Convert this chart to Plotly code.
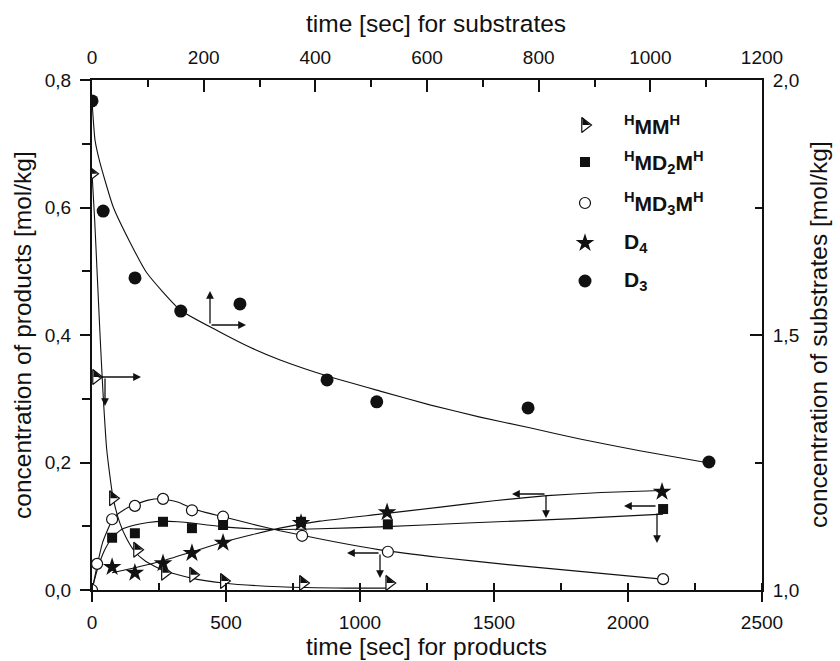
import plotly.graph_objects as go

# ---------------- data ----------------
# products: bottom axis = time [s], left axis = concentration [mol/kg]
mm_t = [0, 15, 78, 168, 272, 377, 492, 787, 1109]
mm_c = [0.653, 0.334, 0.144, 0.063, 0.027, 0.024, 0.014, 0.011, 0.011]
mm_fit_t = [0, 10, 20, 30, 41, 55, 78, 104, 130, 160, 200, 265, 366, 489, 700, 950, 1110]
mm_fit_c = [0.655, 0.58, 0.49, 0.40, 0.31, 0.22, 0.146, 0.105, 0.08, 0.060, 0.045, 0.031,
            0.019, 0.011, 0.005, 0.003, 0.003]

md2_t = [75, 160, 265, 373, 489, 780, 1104, 2131]
md2_c = [0.082, 0.089, 0.107, 0.097, 0.102, 0.107, 0.103, 0.127]
md2_fit_t = [0, 15, 30, 50, 75, 110, 160, 210, 265, 320, 373, 430, 489, 600, 701, 850,
             1075, 1400, 1800, 2131]
md2_fit_c = [0, 0.025, 0.045, 0.065, 0.082, 0.095, 0.102, 0.106, 0.108, 0.107, 0.105,
             0.102, 0.099, 0.096, 0.095, 0.096, 0.099, 0.105, 0.112, 0.119]

md3_t = [0, 19, 75, 160, 265, 373, 489, 784, 1104, 2131]
md3_c = [0, 0.041, 0.111, 0.132, 0.143, 0.125, 0.115, 0.085, 0.060, 0.017]
md3_fit_t = [0, 10, 18, 40, 80, 120, 160, 210, 261, 320, 373, 430, 489, 600, 701, 784,
             900, 1075, 1300, 1571, 1850, 2127]
md3_fit_c = [0, 0.02, 0.036, 0.075, 0.113, 0.126, 0.134, 0.141, 0.143, 0.138, 0.128,
             0.121, 0.115, 0.103, 0.093, 0.086, 0.076, 0.063, 0.051, 0.039, 0.028, 0.017]

d4_t = [75, 160, 265, 373, 489, 780, 1101, 2127]
d4_c = [0.036, 0.027, 0.042, 0.058, 0.074, 0.105, 0.122, 0.154]
d4_fit_t = [75, 160, 265, 373, 489, 600, 701, 850, 1075, 1300, 1500, 1698, 1900, 2127]
d4_fit_c = [0.027, 0.035, 0.046, 0.060, 0.075, 0.087, 0.097, 0.108, 0.119, 0.130, 0.140,
            0.148, 0.153, 0.156]

# substrates: top axis = time [s], right axis = concentration [mol/kg]
d3_t = [0, 20, 77, 159, 265, 421, 510, 781, 1105]
d3_c = [1.959, 1.743, 1.612, 1.547, 1.561, 1.412, 1.369, 1.357, 1.251]
d3_fit_t = [0, 5.4, 14, 38, 68, 98, 158, 229, 283, 337, 426, 516, 605, 695, 784, 874,
            981, 1105]
d3_fit_c = [1.959, 1.882, 1.839, 1.751, 1.682, 1.622, 1.549, 1.506, 1.476, 1.451, 1.418,
            1.390, 1.363, 1.339, 1.318, 1.296, 1.273, 1.249]

# tick labels
x_ticks = [0, 500, 1000, 1500, 2000, 2500]
x_ticktext = ["0", "500", "1000", "1500", "2000", "2500"]
x2_ticks = [0, 200, 400, 600, 800, 1000, 1200]
x2_ticktext = ["0", "200", "400", "600", "800", "1000", "1200"]
y_ticks = [0, 0.2, 0.4, 0.6, 0.8]
y_ticktext = ["0,0", "0,2", "0,4", "0,6", "0,8"]
y2_ticks = [1.0, 1.5, 2.0]
y2_ticktext = ["1,0", "1,5", "2,0"]

legend_names = ["<sup>H</sup>MM<sup>H</sup>", "<sup>H</sup>MD<sub>2</sub>M<sup>H</sup>",
                "<sup>H</sup>MD<sub>3</sub>M<sup>H</sup>", "D<sub>4</sub>", "D<sub>3</sub>"]

# ---------------- layout geometry (pixels) ----------------
W_PX, H_PX = 840, 661
L, R, T, B = 92, 762, 80, 590
PW, PH = R - L, B - T


def pp(px, py):
    return (px - L) / PW, (B - py) / PH


FONT = "Liberation Sans, Arial, Helvetica, sans-serif"
BLACK = "#111111"
TRI = 13  # triangle marker size

fig = go.Figure()

line_style = dict(color=BLACK, width=1.1, shape="spline", smoothing=0.5)

# fitted curves
fig.add_trace(go.Scatter(x=mm_fit_t, y=mm_fit_c, mode="lines", line=line_style, hoverinfo="skip"))
fig.add_trace(go.Scatter(x=md2_fit_t, y=md2_fit_c, mode="lines", line=line_style, hoverinfo="skip"))
fig.add_trace(go.Scatter(x=md3_fit_t, y=md3_fit_c, mode="lines", line=line_style, hoverinfo="skip"))
fig.add_trace(go.Scatter(x=d4_fit_t, y=d4_fit_c, mode="lines", line=line_style, hoverinfo="skip"))
fig.add_trace(go.Scatter(x=d3_fit_t, y=d3_fit_c, mode="lines", line=line_style,
                         xaxis="x2", yaxis="y2", hoverinfo="skip"))

# data points
fig.add_trace(go.Scatter(x=md3_t, y=md3_c, mode="markers",
                         marker=dict(symbol="circle", size=11, color="white",
                                     line=dict(color=BLACK, width=1.2))))
fig.add_trace(go.Scatter(x=d4_t, y=d4_c, mode="markers",
                         marker=dict(symbol="star", size=14, color=BLACK, line=dict(width=0))))
fig.add_trace(go.Scatter(x=md2_t, y=md2_c, mode="markers",
                         marker=dict(symbol="square", size=10, color=BLACK, line=dict(width=0))))
# half-filled right triangle: white triangle + black upper half
fig.add_trace(go.Scatter(x=mm_t, y=mm_c, mode="markers",
                         marker=dict(symbol="triangle-right", size=TRI, color="white",
                                     line=dict(color=BLACK, width=1.2))))
fig.add_trace(go.Scatter(x=mm_t, y=mm_c, mode="markers",
                         marker=dict(symbol="triangle-ne", size=TRI * 0.65, color=BLACK,
                                     angle=180, standoff=TRI * 0.5 * 0.4,
                                     line=dict(width=0))))
fig.add_trace(go.Scatter(x=d3_t, y=d3_c, mode="markers", xaxis="x2", yaxis="y2",
                         marker=dict(symbol="circle", size=13, color=BLACK, line=dict(width=0))))

# ---------------- legend (manual) ----------------
LEG_X = 585
LEG_ROWS = [125, 162, 203, 243, 281]
leg_x = [pp(LEG_X, 0)[0]] * len(LEG_ROWS)
leg_y = [pp(0, r)[1] for r in LEG_ROWS]
leg_specs = [
    dict(symbol="triangle-right", size=TRI, color="white", line=dict(color=BLACK, width=1.2)),
    dict(symbol="square", size=10, color=BLACK, line=dict(width=0)),
    dict(symbol="circle", size=11, color="white", line=dict(color=BLACK, width=1.2)),
    dict(symbol="star", size=14, color=BLACK, line=dict(width=0)),
    dict(symbol="circle", size=13, color=BLACK, line=dict(width=0)),
]
for i, spec in enumerate(leg_specs):
    fig.add_trace(go.Scatter(x=[leg_x[i]], y=[leg_y[i]], mode="markers", marker=spec,
                             xaxis="x3", yaxis="y3", hoverinfo="skip"))
fig.add_trace(go.Scatter(x=[leg_x[0]], y=[leg_y[0]], mode="markers", xaxis="x3", yaxis="y3",
                         marker=dict(symbol="triangle-ne", size=TRI * 0.65, color=BLACK,
                                     angle=180, standoff=TRI * 0.5 * 0.4, line=dict(width=0)),
                         hoverinfo="skip"))

annotations = []
for i, name in enumerate(legend_names):
    x, y = pp(622, LEG_ROWS[i])
    annotations.append(dict(x=x, y=y, xref="paper", yref="paper", xanchor="left",
                            yanchor="middle", showarrow=False, text="<b>" + name + "</b>",
                            font=dict(family=FONT, size=21, color=BLACK)))

# ---------------- axis titles ----------------
title_font = dict(family=FONT, size=24.5, color=BLACK)
for px, py, txt, ang in [(436, 24, "time [sec] for substrates", 0),
                         (426, 646, "time [sec] for products", 0),
                         (22, 335, "concentration of products [mol/kg]", -90),
                         (818, 335, "concentration of substrates [mol/kg]", -90)]:
    x, y = pp(px, py)
    annotations.append(dict(x=x, y=y, xref="paper", yref="paper", xanchor="center",
                            yanchor="middle", showarrow=False, text=txt, textangle=ang,
                            font=title_font))

# ---------------- axis-assignment arrows (corner -> head, pixels) ----------------
arrows = [
    ((210, 325), (210, 291)), ((210, 325), (246, 325)),      # D3
    ((97, 377), (141, 377)), ((105, 377), (105, 406)),       # HMMH
    ((380, 553), (347, 553)), ((380, 553), (380, 578)),      # HMD3MH
    ((546, 494), (512, 494)), ((546, 494), (546, 518)),      # D4
    ((657, 506), (624, 506)), ((657, 512), (657, 543)),      # HMD2MH
]
for (cx, cy), (hx, hy) in arrows:
    x, y = pp(hx, hy)
    annotations.append(dict(x=x, y=y, xref="paper", yref="paper", ax=cx - hx, ay=cy - hy,
                            axref="pixel", ayref="pixel", showarrow=True, text="",
                            arrowhead=2, arrowsize=1.2, arrowwidth=1.3, arrowcolor=BLACK))

tick_font = dict(family=FONT, size=19, color=BLACK)
axis_common = dict(showgrid=False, zeroline=False, showline=True, linecolor=BLACK,
                   linewidth=2, tickcolor=BLACK, tickwidth=1.5, tickfont=tick_font,
                   tickmode="array", layer="above traces")

fig.update_layout(
    width=W_PX, height=H_PX,
    margin=dict(l=L, r=W_PX - R, t=T, b=H_PX - B, pad=0),
    paper_bgcolor="white", plot_bgcolor="white",
    showlegend=False,
    font=dict(family=FONT, color=BLACK),
    annotations=annotations,
    xaxis=dict(range=[0, 2500], tickvals=x_ticks, ticktext=x_ticktext, ticks="outside",
               ticklen=10, minor=dict(dtick=250, ticks="inside", ticklen=7,
                                      tickcolor=BLACK, tickwidth=1.5),
               ticklabelstandoff=4, **axis_common),
    yaxis=dict(range=[0, 0.8], tickvals=y_ticks, ticktext=y_ticktext, ticks="outside",
               ticklen=10, minor=dict(dtick=0.1, ticks="outside", ticklen=8,
                                      tickcolor=BLACK, tickwidth=1.5),
               ticklabelstandoff=5, **axis_common),
    xaxis2=dict(range=[0, 1200], overlaying="x", side="top", tickvals=x2_ticks,
                ticktext=x2_ticktext, ticks="inside", ticklen=12,
                minor=dict(dtick=100, ticks="inside", ticklen=7, tickcolor=BLACK,
                           tickwidth=1.5),
                ticklabelstandoff=6, **axis_common),
    yaxis2=dict(range=[1.0, 2.0], overlaying="y", side="right", tickvals=y2_ticks,
                ticktext=y2_ticktext, ticks="inside", ticklen=12,
                minor=dict(dtick=0.25, ticks="inside", ticklen=7, tickcolor=BLACK,
                           tickwidth=1.5),
                ticklabelstandoff=5, **axis_common),
    xaxis3=dict(range=[0, 1], overlaying="x", visible=False, fixedrange=True),
    yaxis3=dict(range=[0, 1], overlaying="y", visible=False, fixedrange=True),
)

fig.write_html("out.html")
